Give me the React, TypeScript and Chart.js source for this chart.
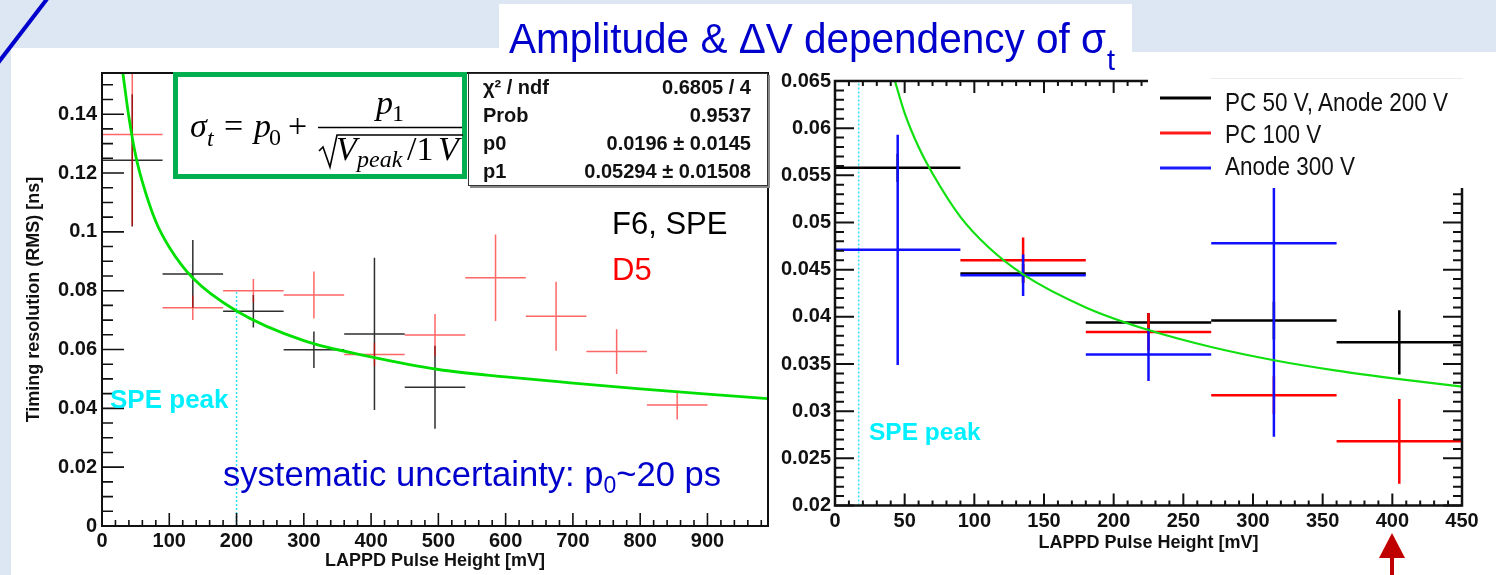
import React, { useEffect, useRef } from "react";
import { Chart, registerables } from "chart.js";

Chart.register(...registerables);

const W = 1496;
const H = 575;

// ---------------- Left panel: F6 (SPE) black, D5 red ----------------
const leftBinHalfWidth = 45;
const f6Centers = [45, 135, 225, 315, 405, 495];
const f6Sigma = [0.1243, 0.0857, 0.073, 0.0599, 0.0653, 0.0472];
const f6Err = [0.0225, 0.0115, 0.0055, 0.0062, 0.0259, 0.0141];

const d5Centers = [45, 135, 225, 315, 405, 495, 585, 675, 765, 855];
const d5Sigma = [0.1331, 0.0742, 0.08, 0.0785, 0.0583, 0.0649, 0.0844, 0.0713, 0.0593, 0.0411];
const d5Err = [0.031, 0.0042, 0.004, 0.008, 0.004, 0.0072, 0.0147, 0.0117, 0.0076, 0.0049];

// fit curve
const leftFitX = [31, 40, 50, 60, 80, 100, 135, 200, 300, 400, 500, 600, 700, 800, 900, 990];
const leftFitY = [0.154, 0.139, 0.126, 0.117, 0.1035, 0.0948, 0.0843, 0.0731, 0.063, 0.0575, 0.0532, 0.0507, 0.0486, 0.0466, 0.0448, 0.0433];

const leftXTicks = [0, 100, 200, 300, 400, 500, 600, 700, 800, 900];
const leftYTicks = [0, 0.02, 0.04, 0.06, 0.08, 0.1, 0.12, 0.14];

// ---------------- Right panel ----------------
const rightBinHalfWidth = 45;
const pc50Centers = [45, 135, 225, 315, 405];
const pc50Sigma = [0.0558, 0.0446, 0.0394, 0.0396, 0.0373];
const pc50Err = [0.0015, 0.001, 0.001, 0.002, 0.0034];

const pc100Centers = [135, 225, 315, 405];
const pc100Sigma = [0.046, 0.0384, 0.0317, 0.0268];
const pc100Err = [0.0024, 0.002, 0.002, 0.0045];

const an300Centers = [45, 135, 225, 315];
const an300Sigma = [0.0471, 0.0444, 0.036, 0.0478];
const an300Err = [0.0122, 0.0022, 0.0028, 0.0205];

const rightFitX = [43, 50, 60, 70, 90, 110, 135, 180, 225, 270, 315, 360, 405, 450];
const rightFitY = [0.065, 0.0616, 0.058, 0.0552, 0.0506, 0.0474, 0.0445, 0.041, 0.0386, 0.0368, 0.0354, 0.0343, 0.0334, 0.0326];

const rightXTicks = [0, 50, 100, 150, 200, 250, 300, 350, 400, 450];
const rightYTicks = [0.02, 0.025, 0.03, 0.035, 0.04, 0.045, 0.05, 0.055, 0.06, 0.065];

const legendLabels = ["PC 50 V, Anode 200 V", "PC 100 V", "Anode 300 V"];
const legendColors = ["#000000", "#ff1a1a", "#1a1aff"];

type PanelCfg = {
  xTicks: number[];
  yTicks: number[];
  xMinorStep: number;
  yMinorStep: number;
  xMajLen: number;
  xMinLen: number;
  yMajLen: number;
  yMinLen: number;
  mirror: boolean;
  frameWidth: number;
  tickWidth: number;
  labelFont: string;
  xLabelY: number;
  yLabelGap: number;
  xTitle: string;
  xTitleY: number;
  xTitleFont: string;
  yTitle?: string;
  yTitleX?: number;
  spe: { x: number; y0: number; y1: number };
};

function makeRootPlugin(name: string, cfg: PanelCfg) {
  return {
    id: "rootStyle_" + name,
    beforeDatasetsDraw(chart: any) {
      const { ctx, chartArea: a, scales } = chart;
      const x = scales.x;
      const y = scales.y;
      ctx.save();
      ctx.beginPath();
      ctx.rect(a.left, a.top, a.right - a.left, a.bottom - a.top);
      ctx.clip();
      // SPE peak marker
      ctx.setLineDash([2, 2]);
      ctx.strokeStyle = "#30e0ff";
      ctx.lineWidth = 1.5;
      const sx = x.getPixelForValue(cfg.spe.x);
      ctx.beginPath();
      ctx.moveTo(sx, y.getPixelForValue(cfg.spe.y0));
      ctx.lineTo(sx, y.getPixelForValue(cfg.spe.y1));
      ctx.stroke();
      ctx.setLineDash([]);
      // error crosses
      chart.data.datasets.forEach((ds: any) => {
        if (!ds.errY) return;
        ctx.strokeStyle = ds.barColor;
        ctx.lineWidth = ds.barWidth;
        ds.data.forEach((p: any, i: number) => {
          const cx = x.getPixelForValue(p.x);
          const cy = y.getPixelForValue(p.y);
          ctx.beginPath();
          ctx.moveTo(x.getPixelForValue(p.x - ds.halfW), cy);
          ctx.lineTo(x.getPixelForValue(p.x + ds.halfW), cy);
          ctx.moveTo(cx, y.getPixelForValue(p.y - ds.errY[i]));
          ctx.lineTo(cx, y.getPixelForValue(p.y + ds.errY[i]));
          ctx.stroke();
        });
      });
      ctx.restore();
    },
    afterDraw(chart: any) {
      const { ctx, chartArea: a, scales } = chart;
      const x = scales.x;
      const y = scales.y;
      ctx.save();
      ctx.strokeStyle = "#111";
      ctx.lineWidth = cfg.frameWidth;
      ctx.strokeRect(a.left, a.top, a.right - a.left, a.bottom - a.top);
      ctx.lineWidth = cfg.tickWidth;
      ctx.beginPath();
      // x ticks
      for (let k = 0; ; k++) {
        const v = x.min + k * cfg.xMinorStep;
        if (v > x.max + 1e-9) break;
        const px = x.getPixelForValue(v);
        const len = cfg.xTicks.some((t) => Math.abs(t - v) < 1e-6) ? cfg.xMajLen : cfg.xMinLen;
        ctx.moveTo(px, a.bottom);
        ctx.lineTo(px, a.bottom - len);
        if (cfg.mirror) {
          ctx.moveTo(px, a.top);
          ctx.lineTo(px, a.top + len);
        }
      }
      // y ticks
      for (let k = 0; ; k++) {
        const v = y.min + k * cfg.yMinorStep;
        if (v > y.max + 1e-9) break;
        const py = y.getPixelForValue(v);
        const len = cfg.yTicks.some((t) => Math.abs(t - v) < 1e-7) ? cfg.yMajLen : cfg.yMinLen;
        ctx.moveTo(a.left, py);
        ctx.lineTo(a.left + len, py);
        if (cfg.mirror) {
          ctx.moveTo(a.right, py);
          ctx.lineTo(a.right - len, py);
        }
      }
      ctx.stroke();
      // labels
      ctx.fillStyle = "#111";
      ctx.font = cfg.labelFont;
      ctx.textAlign = "center";
      ctx.textBaseline = "middle";
      cfg.xTicks.forEach((t) => {
        ctx.fillText(String(t), x.getPixelForValue(t), cfg.xLabelY);
      });
      ctx.textAlign = "right";
      cfg.yTicks.forEach((t) => {
        ctx.fillText(String(t), a.left - cfg.yLabelGap, y.getPixelForValue(t));
      });
      // titles
      ctx.font = cfg.xTitleFont;
      ctx.textAlign = "center";
      ctx.textBaseline = "alphabetic";
      ctx.fillText(cfg.xTitle, (a.left + a.right) / 2, cfg.xTitleY);
      if (cfg.yTitle) {
        ctx.save();
        ctx.translate(cfg.yTitleX || 0, (a.top + a.bottom) / 2);
        ctx.rotate(-Math.PI / 2);
        ctx.textBaseline = "middle";
        ctx.fillText(cfg.yTitle, 0, 0);
        ctx.restore();
      }
      ctx.restore();
    },
  };
}

const pts = (xs: number[], ys: number[]) => xs.map((v, i) => ({ x: v, y: ys[i] }));

const leftDatasets = [
  {
    label: "F6, SPE",
    data: pts(f6Centers, f6Sigma),
    errY: f6Err,
    halfW: leftBinHalfWidth,
    barColor: "rgba(10,10,10,0.85)",
    barWidth: 1.5,
    pointRadius: 0,
    showLine: false,
  },
  {
    label: "D5",
    data: pts(d5Centers, d5Sigma),
    errY: d5Err,
    halfW: leftBinHalfWidth,
    barColor: "rgba(255,0,0,0.6)",
    barWidth: 1.5,
    pointRadius: 0,
    showLine: false,
  },
  {
    label: "fit",
    data: pts(leftFitX, leftFitY),
    showLine: true,
    borderColor: "#00e000",
    borderWidth: 2.8,
    pointRadius: 0,
    cubicInterpolationMode: "monotone",
  },
];

const rightDatasets = [
  {
    label: legendLabels[0],
    data: pts(pc50Centers, pc50Sigma),
    errY: pc50Err,
    halfW: rightBinHalfWidth,
    barColor: legendColors[0],
    barWidth: 2.5,
    pointRadius: 0,
    showLine: false,
  },
  {
    label: legendLabels[1],
    data: pts(pc100Centers, pc100Sigma),
    errY: pc100Err,
    halfW: rightBinHalfWidth,
    barColor: "#ff0000",
    barWidth: 2.5,
    pointRadius: 0,
    showLine: false,
  },
  {
    label: legendLabels[2],
    data: pts(an300Centers, an300Sigma),
    errY: an300Err,
    halfW: rightBinHalfWidth,
    barColor: "#1010ff",
    barWidth: 2.5,
    pointRadius: 0,
    showLine: false,
  },
  {
    label: "fit",
    data: pts(rightFitX, rightFitY),
    showLine: true,
    borderColor: "#10e010",
    borderWidth: 2.2,
    pointRadius: 0,
    cubicInterpolationMode: "monotone",
  },
];

const leftCfg: PanelCfg = {
  xTicks: leftXTicks,
  yTicks: leftYTicks,
  xMinorStep: 20,
  yMinorStep: 0.005,
  xMajLen: 13,
  xMinLen: 6,
  yMajLen: 22,
  yMinLen: 11,
  mirror: false,
  frameWidth: 2,
  tickWidth: 1.6,
  labelFont: 'bold 20px "Liberation Sans", Arial, sans-serif',
  xLabelY: 541,
  yLabelGap: 5,
  xTitle: "LAPPD Pulse Height [mV]",
  xTitleY: 566,
  xTitleFont: 'bold 18px "Liberation Sans", Arial, sans-serif',
  yTitle: "Timing resolution (RMS) [ns]",
  yTitleX: 34,
  spe: { x: 200, y0: 0, y1: 0.0795 },
};

const rightCfg: PanelCfg = {
  xTicks: rightXTicks,
  yTicks: rightYTicks,
  xMinorStep: 10,
  yMinorStep: 0.001,
  xMajLen: 12,
  xMinLen: 5,
  yMajLen: 19,
  yMinLen: 9,
  mirror: true,
  frameWidth: 2.5,
  tickWidth: 2,
  labelFont: 'bold 20px "Liberation Sans", Arial, sans-serif',
  xLabelY: 521,
  yLabelGap: 4,
  xTitle: "LAPPD Pulse Height [mV]",
  xTitleY: 548,
  xTitleFont: 'bold 18px "Liberation Sans", Arial, sans-serif',
  spe: { x: 17, y0: 0.02, y1: 0.065 },
};

function PanelChart(props: {
  name: string;
  cfg: PanelCfg;
  datasets: any[];
  xMin: number;
  xMax: number;
  yMin: number;
  yMax: number;
  padding: { left: number; right: number; top: number; bottom: number };
}) {
  const ref = useRef<HTMLCanvasElement>(null);
  useEffect(() => {
    const chart = new Chart(ref.current as HTMLCanvasElement, {
      type: "scatter",
      data: { datasets: props.datasets as any },
      options: {
        responsive: false,
        animation: false,
        events: [],
        layout: { padding: props.padding },
        plugins: {
          legend: { display: false },
          tooltip: { enabled: false },
          title: { display: false },
        },
        scales: {
          x: { type: "linear", min: props.xMin, max: props.xMax, display: false },
          y: { type: "linear", min: props.yMin, max: props.yMax, display: false },
        },
      } as any,
      plugins: [makeRootPlugin(props.name, props.cfg) as any],
    });
    return () => chart.destroy();
  }, []);
  return (
    <canvas
      ref={ref}
      width={W}
      height={H}
      style={{ position: "absolute", left: 0, top: 0, width: W, height: H }}
    />
  );
}

const sans = '"Liberation Sans", Arial, sans-serif';
const serif = '"Liberation Serif", "Times New Roman", serif';

export default function App() {
  return (
    <div
      style={{
        position: "fixed",
        left: 0,
        top: 0,
        width: W,
        height: H,
        overflow: "hidden",
        background: "#dde7f3",
      }}
    >
      <div style={{ position: "absolute", left: 11, top: 48, right: 0, bottom: 0, background: "#fff" }} />
      <div style={{ position: "absolute", left: 1132, top: 48, right: 0, height: 4, background: "#dde7f3" }} />
      <div style={{ position: "absolute", left: 499, top: 4, width: 633, height: 46, background: "#fff" }} />

      <PanelChart
        name="left"
        cfg={leftCfg}
        datasets={leftDatasets}
        xMin={0}
        xMax={990}
        yMin={0}
        yMax={0.154}
        padding={{ left: 102, right: W - 768, top: 73, bottom: H - 526 }}
      />
      <PanelChart
        name="right"
        cfg={rightCfg}
        datasets={rightDatasets}
        xMin={0}
        xMax={450}
        yMin={0.02}
        yMax={0.065}
        padding={{ left: 835, right: W - 1462, top: 81, bottom: H - 505.5 }}
      />

      <svg
        width={W}
        height={H}
        style={{ position: "absolute", left: 0, top: 0 }}
        xmlns="http://www.w3.org/2000/svg"
      >
        <line x1={-2} y1={63} x2={47} y2={-1} stroke="#0000cc" strokeWidth={4} />

        {/* title */}
        <text x={509} y={53} fontFamily={sans} fontSize={43} fill="#0000cc" textLength={597} lengthAdjust="spacingAndGlyphs">
          Amplitude &amp; ΔV dependency of σ
        </text>
        <text x={1107} y={70} fontFamily={sans} fontSize={29} fill="#0000cc">
          t
        </text>

        {/* formula box */}
        <rect x={175.5} y={74.5} width={289} height={102} fill="#fff" stroke="#00b050" strokeWidth={5} />
        <text x={190} y={137} fontFamily={serif} fontSize={34} fontStyle="italic">σ</text>
        <text x={207} y={146} fontFamily={serif} fontSize={24} fontStyle="italic">t</text>
        <text x={224} y={137} fontFamily={serif} fontSize={34}>=</text>
        <text x={254} y={137} fontFamily={serif} fontSize={34} fontStyle="italic">p</text>
        <text x={269} y={145} fontFamily={serif} fontSize={24}>0</text>
        <text x={288} y={137} fontFamily={serif} fontSize={34}>+</text>
        <line x1={318} y1={127.5} x2={462} y2={127.5} stroke="#000" strokeWidth={1.6} />
        <text x={376} y={114} fontFamily={serif} fontSize={34} fontStyle="italic">p</text>
        <text x={392} y={121} fontFamily={serif} fontSize={24}>1</text>
        <polyline points="319,151 323,147 330,167 337,135 463,135" fill="none" stroke="#000" strokeWidth={1.6} />
        <text x={336} y={160} fontFamily={serif} fontSize={34} fontStyle="italic">V</text>
        <text x={357} y={167} fontFamily={serif} fontSize={24} fontStyle="italic">peak</text>
        <text x={407} y={160} fontFamily={serif} fontSize={34}>/1</text>
        <text x={438} y={160} fontFamily={serif} fontSize={34} fontStyle="italic">V</text>

        {/* stats box */}
        <rect x={470} y={75} width={300} height={113} fill="#888" />
        <rect x={468.5} y={73.5} width={299} height={112} fill="#fff" stroke="#333" strokeWidth={1} />
        <g fontFamily={sans} fontSize={20} fontWeight="bold" fill="#111">
          <text x={483} y={94}>χ² / ndf</text>
          <text x={483} y={122}>Prob</text>
          <text x={483} y={150}>p0</text>
          <text x={483} y={178}>p1</text>
          <text x={751} y={94} textAnchor="end">0.6805 / 4</text>
          <text x={751} y={122} textAnchor="end">0.9537</text>
          <text x={751} y={150} textAnchor="end">0.0196 ± 0.0145</text>
          <text x={751} y={178} textAnchor="end">0.05294 ± 0.01508</text>
        </g>

        {/* annotations left */}
        <text x={110} y={408} fontFamily={sans} fontSize={26} fontWeight="bold" fill="#00f0ff">SPE peak</text>
        <text x={612} y={234} fontFamily={sans} fontSize={31} fill="#000">F6, SPE</text>
        <text x={612} y={280} fontFamily={sans} fontSize={31} fill="#ff0000">D5</text>
        <text x={223} y={486} fontFamily={sans} fontSize={34.6} fill="#0000cc">
          systematic uncertainty: p
          <tspan dy={7} fontSize={23}>0</tspan>
          <tspan dy={-7}>~20 ps</tspan>
        </text>

        {/* right panel annotations */}
        <text x={869} y={440} fontFamily={sans} fontSize={24.5} fontWeight="bold" fill="#00f0ff">SPE peak</text>

        {/* legend box */}
        <rect x={1148} y={60} width={348} height={128} fill="#fff" />
        <line x1={1210} y1={78.5} x2={1463} y2={78.5} stroke="#ececec" strokeWidth={1} />
        {legendLabels.map((lab, i) => (
          <g key={lab}>
            <line x1={1160} y1={98 + 35 * i} x2={1211} y2={98 + 35 * i} stroke={legendColors[i]} strokeWidth={3} />
            <text
              transform={`translate(1225 ${111 + 32 * i}) scale(0.9 1)`}
              fontFamily={sans}
              fontSize={25}
              fill="#111"
            >
              {lab}
            </text>
          </g>
        ))}

        {/* arrow */}
        <polygon points="1379,558 1405,558 1392,533" fill="#c00000" />
        <rect x={1390} y={557} width={4} height={20} fill="#c00000" />
      </svg>
    </div>
  );
}
